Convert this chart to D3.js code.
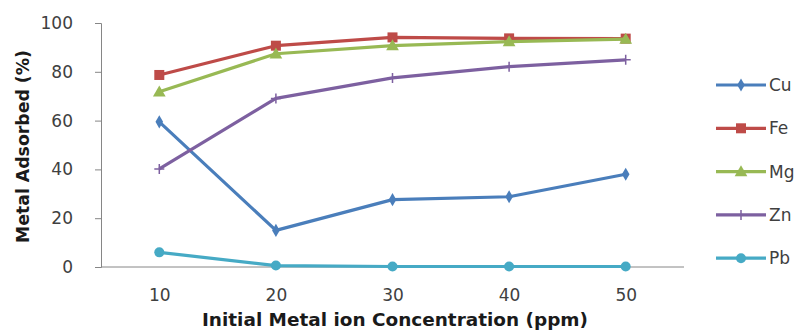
<!DOCTYPE html>
<html><head><meta charset="utf-8">
<script src="https://cdn.jsdelivr.net/npm/d3@7"></script>
<style>body{margin:0;background:#fff}svg{display:block}text{font-family:"DejaVu Sans","Open Sans",sans-serif}</style>
</head><body><svg id="c" width="802" height="331"></svg>
<script>
const categories = [10, 20, 30, 40, 50];
const seriesNames = ["Cu", "Fe", "Mg", "Zn", "Pb"];
const cu = [59.5, 15.0, 27.6, 28.8, 38.0];
const fe = [78.7, 90.7, 94.1, 93.7, 93.6];
const mg = [71.8, 87.4, 90.7, 92.4, 93.4];
const zn = [40.2, 69.1, 77.5, 82.1, 84.9];
const pb = [6.0, 0.6, 0.2, 0.2, 0.2];
const yTicks = [0, 20, 40, 60, 80, 100];
const colors = ["#4a7ebb", "#be4b48", "#98b954", "#7d60a0", "#46aac5"];
const markers = ["diamond", "square", "triangle", "plus", "circle"];
const values = [cu, fe, mg, zn, pb];

const svg = d3.select("#c");
const x = d3.scalePoint().domain(categories).range([101, 684]).padding(0.5);
const y = d3.scaleLinear().domain([0, 100]).range([267, 23]);

const yAx = svg.append("g").attr("transform", "translate(101,0)")
  .call(d3.axisLeft(y).tickValues(yTicks).tickSize(6).tickPadding(22));
yAx.select(".domain").attr("stroke", "#868686");
yAx.selectAll(".tick line").attr("stroke", "#868686");
yAx.selectAll("text").attr("fill", "#404040").style("font-size", "17px");

const xAx = svg.append("g").attr("transform", "translate(0,267)")
  .call(d3.axisBottom(x).tickSize(0).tickPadding(22));
xAx.select(".domain").attr("stroke", "#868686").attr("d", "M101,0H684");
xAx.selectAll("text").attr("fill", "#404040").style("font-size", "17px");

svg.append("text").attr("x", 202).attr("y", 326)
  .attr("textLength", 386).attr("lengthAdjust", "spacingAndGlyphs")
  .style("font-size", "18px").style("font-weight", "bold").attr("fill", "#1a1a1a")
  .text("Initial Metal ion Concentration (ppm)");
svg.append("text").attr("transform", "translate(29,243) rotate(-90)")
  .attr("textLength", 193).attr("lengthAdjust", "spacingAndGlyphs")
  .style("font-size", "17px").style("font-weight", "bold").attr("fill", "#1a1a1a")
  .text("Metal Adsorbed (%)");

function marker(g, type, color, cx, cy) {
  if (type === "diamond") g.append("path").attr("d", d3.symbol(d3.symbolDiamond, 50)()).attr("transform", `translate(${cx},${cy})`).attr("fill", color);
  else if (type === "square") g.append("rect").attr("x", cx-5).attr("y", cy-5).attr("width", 10).attr("height", 10).attr("fill", color);
  else if (type === "triangle") g.append("path").attr("d", d3.symbol(d3.symbolTriangle, 70)()).attr("transform", `translate(${cx},${cy+1})`).attr("fill", color);
  else if (type === "plus") g.append("path").attr("d", `M${cx-5},${cy}H${cx+5}M${cx},${cy-5}V${cy+5}`).attr("stroke", color).attr("stroke-width", 1.5);
  else if (type === "circle") g.append("circle").attr("cx", cx).attr("cy", cy).attr("r", 5).attr("fill", color);
}

const line = d3.line().x((d, i) => x(categories[i])).y(d => y(d));
seriesNames.forEach((name, s) => {
  const g = svg.append("g");
  g.append("path").datum(values[s]).attr("d", line).attr("fill", "none")
    .attr("stroke", colors[s]).attr("stroke-width", 3.2).attr("stroke-linejoin", "round");
  values[s].forEach((v, i) => marker(g, markers[s], colors[s], x(categories[i]), y(v)));
});

const leg = svg.append("g");
seriesNames.forEach((name, s) => {
  const ly = 85 + s * 43.3;
  leg.append("line").attr("x1", 716).attr("x2", 766).attr("y1", ly).attr("y2", ly)
    .attr("stroke", colors[s]).attr("stroke-width", 3.2);
  marker(leg, markers[s], colors[s], 741, ly);
  leg.append("text").attr("x", 769).attr("y", ly).attr("dy", "0.36em")
    .style("font-size", "17px").attr("fill", "#404040").text(name);
});
</script></body></html>
